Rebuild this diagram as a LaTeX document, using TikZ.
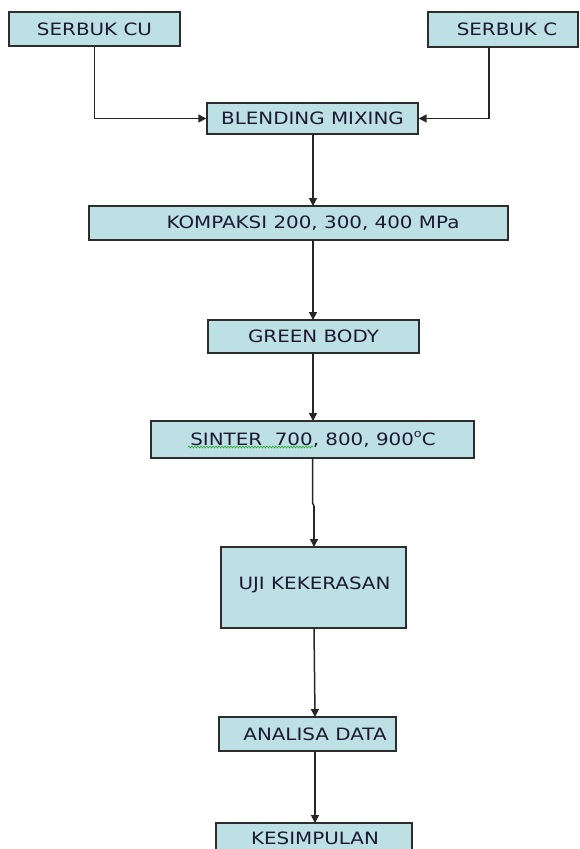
\documentclass[tikz,border=0pt]{standalone}
\usepackage{fontspec}
\setmainfont[FakeStretch=1.17]{DejaVu Sans}
\usetikzlibrary{arrows.meta,decorations.pathmorphing}
\definecolor{boxfill}{RGB}{188,224,228}
\definecolor{boxline}{RGB}{45,45,45}
\definecolor{txt}{RGB}{30,25,50}
\definecolor{wavy}{RGB}{40,170,40}
\begin{document}
\begin{tikzpicture}[x=1pt,y=-1pt,
  box/.style={draw=boxline,line width=1.4pt,fill=boxfill,rectangle,inner sep=0pt,
    font=\fontsize{17}{20}\selectfont,text=txt},
  lbl/.style={inner sep=0pt,font=\fontsize{17}{20}\selectfont,text=txt},
  conn/.style={draw=black!85,line width=1.5pt,-{Triangle[length=8pt,width=8pt]}},
  plain/.style={draw=black!85,line width=1.5pt}]
\useasboundingbox (0,0) rectangle (580,849);
% boxes
\node[box,minimum width=171pt,minimum height=34pt] (cu) at (94.5,29) {SERBUK CU};
\node[box,minimum width=150pt,minimum height=35pt] (c) at (503,29.5) {};
\node[lbl] (ctext) at (507,29.5) {SERBUK C};
\node[box,minimum width=211pt,minimum height=31pt] (blend) at (312.5,118.5) {BLENDING MIXING};
\node[box,minimum width=419pt,minimum height=34pt] (komp) at (298.5,223) {};
\node[lbl] (komptext) at (313,223) {KOMPAKSI 200, 300, 400 MPa};
\node[box,minimum width=211pt,minimum height=33pt] (green) at (313.5,336.5) {GREEN BODY};
\node[box,minimum width=323pt,minimum height=37pt] (sinter) at (312.5,439.5) {};
\node[lbl] (sintertext) at (313,439.5) {SINTER\ \ 700, 800, 900\raisebox{0.45em}{\fontsize{11}{11}\selectfont o}C};
\node[box,minimum width=185pt,minimum height=81pt] (uji) at (313.5,587.5) {};
\node[lbl] (ujitext) at (314.5,585) {UJI KEKERASAN};
\node[box,minimum width=177pt,minimum height=34pt] (anal) at (307.5,734) {};
\node[lbl] (analtext) at (315,734) {ANALISA DATA};
\node[box,minimum width=196pt,minimum height=40pt] (kes) at (314,843) {};
\node[lbl] (kestext) at (315,838) {KESIMPULAN};
% spell-check wavy underline
\coordinate (w1) at (188,447);
\coordinate (w2) at (313,447);
\draw[wavy,line width=0.6pt,decorate,decoration={snake,segment length=3pt,amplitude=0.9pt}] (w1) -- (w2);
% connectors
\draw[conn] (cu.south) -- (cu.south |- blend.west) -- (blend.west);
\draw[conn] (489,47) -- (489,118.5) -- (blend.east);
\draw[conn] (313,134) -- (313,206);
\draw[conn] (313,240) -- (313,320);
\draw[conn] (313,353) -- (313,421);
\coordinate (j1) at (312.5,503);
\coordinate (j2) at (314,506);
\draw[plain] (312.5,458) -- (j1) -- (j2);
\draw[conn] (j2) -- (314,547);
\draw[conn] (314,628) -- (315,717);
\draw[conn] (315,751) -- (315,823);
\end{tikzpicture}
\end{document}
